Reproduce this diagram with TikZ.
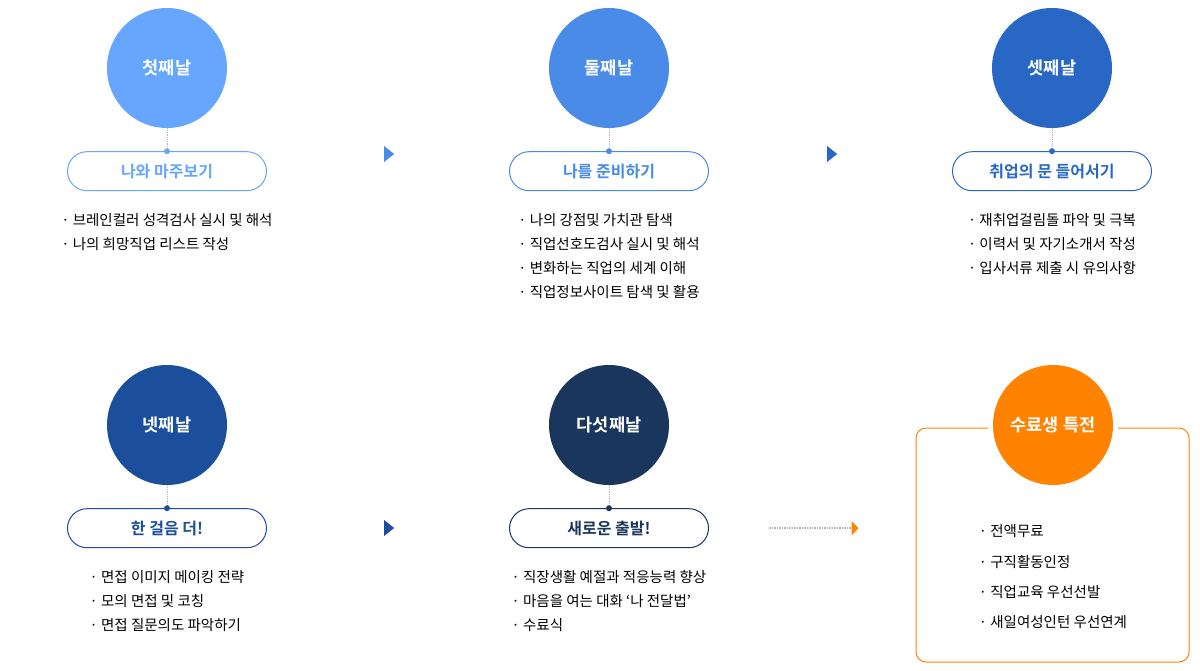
\documentclass[tikz,border=0pt]{standalone}
\usepackage{fontspec}
\setmainfont{Noto Sans CJK KR}[BoldFont={Noto Sans CJK KR Bold}]
\usetikzlibrary{positioning,shapes.geometric,arrows.meta}
\definecolor{dayone}{RGB}{102,166,255}
\definecolor{daytwo}{RGB}{74,139,232}
\definecolor{daythree}{RGB}{40,104,196}
\definecolor{dayfour}{RGB}{27,79,156}
\definecolor{dayfive}{RGB}{27,54,92}
\definecolor{giftorange}{RGB}{255,130,0}
\definecolor{linkgray}{RGB}{185,185,185}

\begin{document}
\begin{tikzpicture}[
    x=1pt, y=-1pt,
    node distance=23pt,
    daycircle/.style={circle, minimum size=120pt, inner sep=0pt, text=white, font=\fontsize{17.5}{20}\selectfont\bfseries},
    pill/.style={draw, line width=1pt, rounded corners=19.5pt, minimum width=199pt, minimum height=39pt, fill=white, font=\fontsize{16}{19}\selectfont\bfseries},
    items/.style={align=left, inner sep=0pt, font=\fontsize{14.5}{24}\selectfont},
    link/.style={linkgray, densely dotted, line width=0.8pt},
    pin/.style={circle, fill, inner sep=0pt, minimum size=6pt},
    nextmark/.style={isosceles triangle, isosceles triangle stretches, minimum height=10pt, minimum width=16pt, inner sep=0pt},
    giftarr/.style={linkgray, densely dotted, line width=1.5pt, -{Triangle[length=7pt, width=14pt, giftorange]}},
]
\useasboundingbox (0,0) rectangle (1200,670);

% Day circles
\node[daycircle, fill=dayone]   (c1) at (167,68)  {첫째날};
\node[daycircle, fill=daytwo]   (c2) at (609,68)  {둘째날};
\node[daycircle, fill=daythree] (c3) at (1052,68) {셋째날};
\node[daycircle, fill=dayfour]  (c4) at (167,425) {넷째날};
\node[daycircle, fill=dayfive]  (c5) at (609,425) {다섯째날};

% Titles
\node[pill, draw=dayone, text=dayone,     below=of c1] (p1) {나와 마주보기};
\node[pill, draw=daytwo, text=daytwo,     below=of c2] (p2) {나를 준비하기};
\node[pill, draw=daythree, text=daythree, below=of c3] (p3) {취업의 문 들어서기};
\node[pill, draw=dayfour, text=dayfour,   below=of c4] (p4) {한 걸음 더!};
\node[pill, draw=dayfive, text=dayfive,   below=of c5] (p5) {새로운 출발!};

% Dotted links
\draw[link] (c1) -- (p1.north);
\draw[link] (c2) -- (p2.north);
\draw[link] (c3) -- (p3.north);
\draw[link] (c4) -- (p4.north);
\draw[link] (c5) -- (p5.north);
\node[pin, dayone]   at (p1.north) {};
\node[pin, daytwo]   at (p2.north) {};
\node[pin, daythree] at (p3.north) {};
\node[pin, dayfour]  at (p4.north) {};
\node[pin, dayfive]  at (p5.north) {};

% Lists
\node[items, below=22pt of p1] (l1) {·\ 브레인컬러 성격검사 실시 및 해석\\·\ 나의 희망직업 리스트 작성};
\node[items, below=22pt of p2] (l2) {·\ 나의 강점및 가치관 탐색\\·\ 직업선호도검사 실시 및 해석\\·\ 변화하는 직업의 세계 이해\\·\ 직업정보사이트 탐색 및 활용};
\node[items, below=22pt of p3] (l3) {·\ 재취업걸림돌 파악 및 극복\\·\ 이력서 및 자기소개서 작성\\·\ 입사서류 제출 시 유의사항};
\node[items, below=22pt of p4] (l4) {·\ 면접 이미지 메이킹 전략\\·\ 모의 면접 및 코칭\\·\ 면접 질문의도 파악하기};
\node[items, below=22pt of p5] (l5) {·\ 직장생활 예절과 적응능력 향상\\·\ 마음을 여는 대화 ‘나 전달법’\\·\ 수료식};

% Step markers
\node[nextmark, fill=daytwo]   (m1) at (388,154) {};
\node[nextmark, fill=daythree] (m2) at (831,154) {};
\node[nextmark, fill=dayfour]  (m3) at (388,528) {};

% Graduate benefits
\node[draw=giftorange, line width=1pt, rounded corners=10pt, minimum width=273pt, minimum height=234pt] (gbox) at (1052.5,545) {};
\fill[white] (1053,425) circle (65);
\node[daycircle, fill=giftorange] (c6) at (1053,425) {수료생 특전};
\node[items, font=\fontsize{14.5}{30.3}\selectfont, below=39.5pt of c6] (l6) {·\ 전액무료\\·\ 구직활동인정\\·\ 직업교육 우선선발\\·\ 새일여성인턴 우선연계};
\coordinate[right=60pt of p5] (g0);
\coordinate (g1) at ([xshift=-57pt]gbox.west |- p5);
\draw[giftarr] (g0) -- (g1);

\end{tikzpicture}
\end{document}
